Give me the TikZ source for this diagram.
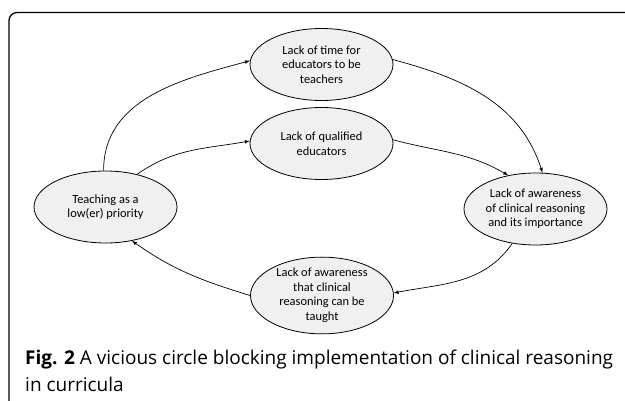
\documentclass[tikz,border=0pt]{standalone}
\usepackage{fontspec}
\setmainfont{Carlito}
\newfontfamily\capfont{Open Sans}
\usetikzlibrary{arrows}
\usetikzlibrary{shapes}

\begin{document}
\begin{tikzpicture}[x=1pt,y=1pt,->,>=latex,
    cause/.style={ellipse, draw=black, fill=black!6, line width=0.8pt,
      minimum width=143pt, minimum height=72pt, inner sep=0pt, align=center,
      font=\fontsize{12.4}{14.5}\selectfont},
    link/.style={line width=0.7pt}]
\useasboundingbox (0,0) rectangle (625,400);
\draw[-,line width=1.3pt,rounded corners=8pt] (9,-10) |- (640,387.5);

\node[cause] (time)   at (321.5,335.5) {Lack of time for\\educators to be\\teachers};
\node[cause] (qual)   at (321.5,256.5) {Lack of qualified\\educators};
\node[cause] (prio)   at (105.5,193)   {Teaching as a\\low(er) priority};
\node[cause] (aware)  at (535.5,191)   {Lack of awareness\\of clinical reasoning\\and its importance};
\node[cause] (taught) at (322,104.5)   {Lack of awareness\\that clinical\\reasoning can be\\taught};

\draw[link] (prio.93)  to[out=90,in=195]  (time.177);
\draw[link] (prio.46)  to[out=35,in=190]  (qual.178);
\draw[link] (time.4)   to[out=-15,in=108] (aware.79);
\draw[link] (qual.3)   to[out=-15,in=150] (aware.129);
\draw[link] (aware.236) to[out=-125,in=11] (taught.2);
\draw[link] (taught.180) to[out=163,in=-35] (prio.308);

\node[anchor=base west,inner sep=0pt,align=left,
  font=\capfont\fontsize{19}{26.7}\selectfont] (caption) at (25,9)
  {{\bfseries Fig. 2} A vicious circle blocking implementation of clinical reasoning\\in curricula};
\end{tikzpicture}
\end{document}
